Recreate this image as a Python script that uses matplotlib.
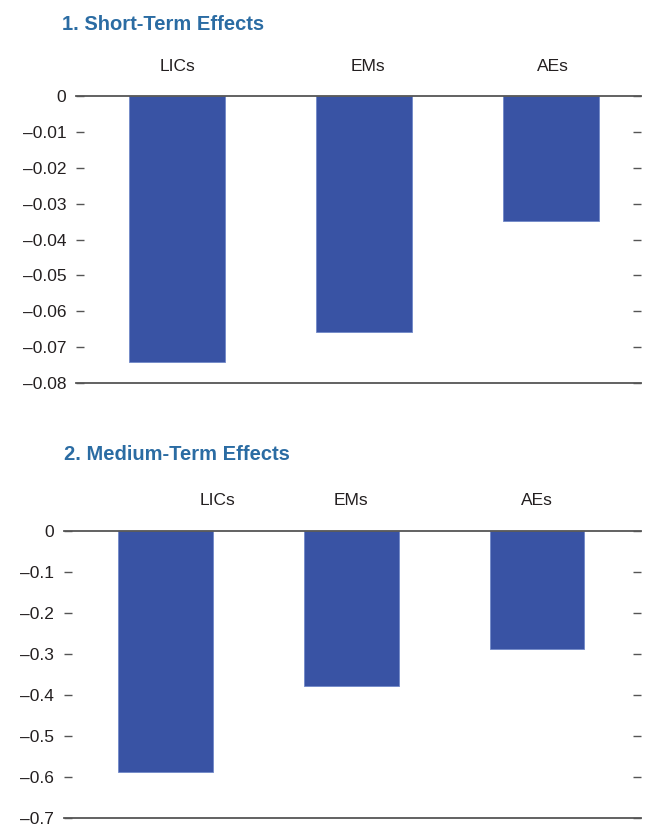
import matplotlib.pyplot as plt
import numpy as np

# Data
groups = ['LICs', 'EMs', 'AEs']
short_term = [-0.0741, -0.0657, -0.0348]
medium_term = [-0.588, -0.377, -0.288]

short_ticks = [0, -0.01, -0.02, -0.03, -0.04, -0.05, -0.06, -0.07, -0.08]
medium_ticks = [0, -0.1, -0.2, -0.3, -0.4, -0.5, -0.6, -0.7]

title_color = '#2B6CA3'
bar_color = '#3953A4'
text_color = '#231F20'
line_color = '#555555'

plt.rcParams['font.family'] = ['Liberation Sans Narrow', 'Liberation Sans', 'DejaVu Sans']

fig = plt.figure(figsize=(6.5, 8.25), dpi=100)


def fmt(v, nd):
    if v == 0:
        return '0'
    return '\u2013' + f'{abs(v):.{nd}f}'


def draw_panel(ax, values, ticks, nd, xlim, label_x, label_off):
    x = np.arange(len(groups))
    ax.bar(x, values, width=0.51, color=bar_color, edgecolor='#7088C8',
           linewidth=0.6, zorder=2)
    ax.set_xlim(*xlim)
    ax.set_ylim(min(ticks), 0)
    for s in ['left', 'right']:
        ax.spines[s].set_visible(False)
    for s in ['top', 'bottom']:
        ax.spines[s].set_color(line_color)
        ax.spines[s].set_linewidth(1.3)
        ax.spines[s].set_zorder(3)
    ax.set_xticks([])
    ax.set_yticks(ticks)
    ax.set_yticklabels([fmt(t, nd) for t in ticks])
    ax.tick_params(axis='y', direction='in', length=6, width=1, color=line_color,
                   labelsize=12.5, labelcolor=text_color, pad=7,
                   left=True, right=True)
    for lx, g in zip(label_x, groups):
        ax.annotate(g, xy=(lx, 1.0), xycoords=('data', 'axes fraction'),
                    xytext=(0, label_off), textcoords='offset points',
                    ha='center', va='center', fontsize=12.5, color=text_color)


ax1 = fig.add_axes([76 / 650, 1 - 383 / 825, 565 / 650, 287 / 825])
draw_panel(ax1, short_term, short_ticks, 2, (-0.54, 2.48),
           [0, 1.02, 2.01], 21)

ax2 = fig.add_axes([64 / 650, 1 - 818 / 825, 577 / 650, 287 / 825])
draw_panel(ax2, medium_term, medium_ticks, 1, (-0.547, 2.56),
           [0.28, 1.0, 2.0], 22)

fig.text(62 / 650, 1 - 25 / 825, '1. Short-Term Effects', fontsize=14.5,
         fontweight='bold', color=title_color, va='center', ha='left')
fig.text(64 / 650, 1 - 454 / 825, '2. Medium-Term Effects', fontsize=14.5,
         fontweight='bold', color=title_color, va='center', ha='left')

fig.savefig('out.png', dpi=100)
